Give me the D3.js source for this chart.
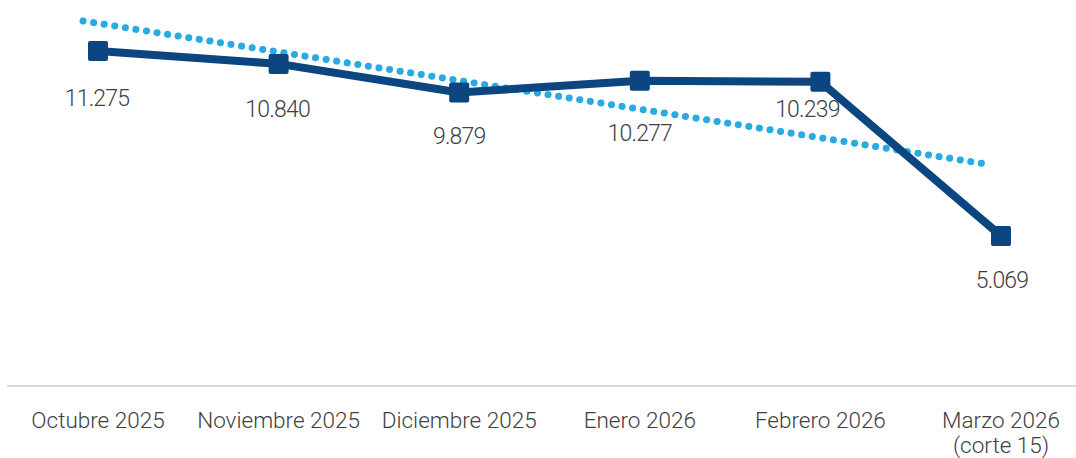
<!DOCTYPE html>
<html>
<head>
<meta charset="utf-8">
<script src="https://cdn.jsdelivr.net/npm/d3@7"></script>
<style>
  body { margin: 0; background: #fff; }
  svg text { font-family: Roboto, "Open Sans", sans-serif; fill: #404040; }
</style>
</head>
<body>
<div id="chart"></div>
<script>
var categories = ["Octubre 2025", "Noviembre 2025", "Diciembre 2025", "Enero 2026", "Febrero 2026", "Marzo 2026|(corte 15)"];
var values = [11275, 10840, 9879, 10277, 10239, 5069];
var valueLabels = ["11.275", "10.840", "9.879", "10.277", "10.239", "5.069"];
// linear trend, read at first and last month
var trendValues = [12280, 7480];

// label nudges (dx, dy from marker centre)
var labelDx = [-1, -1, 0, 0, -13, 1];
var labelDy = [55, 53, 51, 60, 35, 52];

var width = 1076, height = 458;

var svg = d3.select("#chart").append("svg")
    .attr("width", width)
    .attr("height", height);

var x = d3.scalePoint()
    .domain(categories)
    .range([98, 1001]);

var y = d3.scaleLinear()
    .domain([0, 13000])
    .range([387, -0.5]);

// baseline
svg.append("line")
    .attr("x1", 7).attr("x2", width)
    .attr("y1", 386).attr("y2", 386)
    .attr("stroke", "#d9d9d9")
    .attr("stroke-width", 2);

// category labels
var xl = svg.selectAll(".xlab")
    .data(categories)
    .enter()
    .append("text")
    .attr("class", "xlab")
    .attr("text-anchor", "middle")
    .attr("font-size", "22.5px")
    .attr("font-weight", 300)
    .attr("x", function (d) { return x(d); })
    .attr("y", 428);

xl.selectAll("tspan")
    .data(function (d) { return d.split("|").map(function (t) { return [d, t]; }); })
    .enter()
    .append("tspan")
    .attr("x", function (d) { return x(d[0]); })
    .attr("dy", function (d, i) { return i == 0 ? 0 : 24.5; })
    .text(function (d) { return d[1]; });

// trend line (dotted)
var trendX = [x(categories[0]) - 15, x(categories[categories.length - 1]) - 15];
svg.append("path")
    .datum(trendValues)
    .attr("fill", "none")
    .attr("stroke", "#29abe2")
    .attr("stroke-width", 7)
    .attr("stroke-linecap", "round")
    .attr("stroke-dasharray", "0.1 10.6")
    .attr("d", d3.line()
        .x(function (d, i) { return trendX[i]; })
        .y(function (d) { return y(d); }));

// main line
svg.append("path")
    .datum(values)
    .attr("fill", "none")
    .attr("stroke", "#0b4680")
    .attr("stroke-width", 8)
    .attr("stroke-linejoin", "round")
    .attr("d", d3.line()
        .x(function (d, i) { return x(categories[i]); })
        .y(function (d) { return y(d); }));

// square markers
svg.selectAll(".mk")
    .data(values)
    .enter()
    .append("rect")
    .attr("class", "mk")
    .attr("x", function (d, i) { return x(categories[i]) - 10; })
    .attr("y", function (d) { return y(d) - 10; })
    .attr("width", 20)
    .attr("height", 20)
    .attr("rx", 2)
    .attr("fill", "#0b4680");

// value labels
svg.selectAll(".vlab")
    .data(values)
    .enter()
    .append("text")
    .attr("class", "vlab")
    .attr("text-anchor", "middle")
    .attr("font-size", "23px")
    .attr("font-weight", 300)
    .attr("letter-spacing", "-0.8px")
    .attr("x", function (d, i) { return x(categories[i]) + labelDx[i]; })
    .attr("y", function (d, i) { return y(d) + labelDy[i]; })
    .text(function (d, i) { return valueLabels[i]; });
</script>
</body>
</html>
